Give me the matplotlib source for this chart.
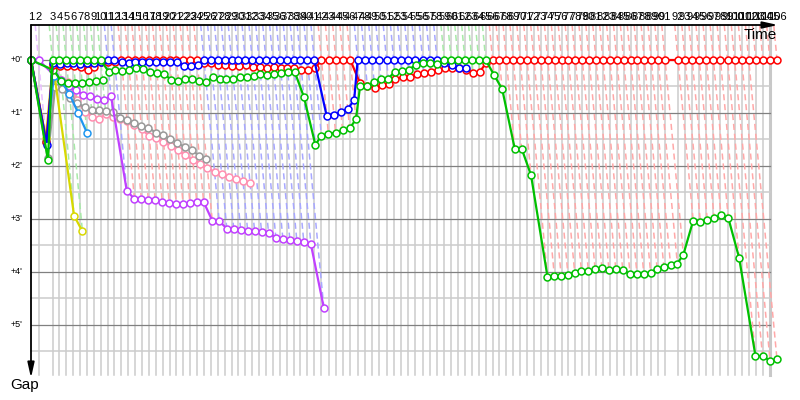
import numpy as np
import matplotlib.pyplot as plt
from matplotlib.colors import to_rgb

plt.rcParams['font.family'] = ['Liberation Sans', 'DejaVu Sans']

# leader lap times in minutes (lap 1 = start line)
lap_time = [
    0.00, 1.50, 2.80,
    1.38, 1.37, 1.38, 1.38, 1.37, 1.38, 1.38, 1.38, 1.37, 1.38,
    1.38, 1.38, 1.37, 1.38, 1.38, 1.38, 1.37, 1.38, 1.38, 1.38,
    1.37, 1.38, 1.38, 1.38, 1.37, 1.38, 1.38, 1.38, 1.38, 1.37,
    1.38, 1.38, 1.38, 1.37, 1.38, 1.38, 1.38, 1.38,
    1.44, 1.46, 1.44, 1.44, 1.44, 1.46, 1.44, 1.44, 1.44, 1.46,
    1.44, 1.44, 1.44, 1.46, 1.44, 1.44, 1.44, 1.44,
    1.38, 1.39, 1.37, 1.38, 1.38, 1.39, 1.38, 1.37, 1.38, 1.38,
    1.38, 1.38, 1.39, 1.37, 1.38, 1.38, 1.38, 1.39, 1.38, 1.37,
    1.38, 1.38, 1.38, 1.39, 1.38, 1.37, 1.38, 1.38, 1.38, 1.38,
    1.38, 1.38,
    2.60,
    1.41, 1.42, 1.41, 1.42, 1.41, 1.41, 1.42, 1.41, 1.42, 1.41,
    1.41, 1.42, 1.41, 1.42,
]

# gap to leader (minutes) per lap, starting at lap 1; None = no data
red_gap = [
    0, 1.55, 0.09, 0.11, 0.12, 0.12, 0.13, 0.19, 0.13, 0.04,
    0.03, 0.03, 0, 0, 0, 0, 0, 0, 0, 0,
    0, 0, 0, 0, 0.06, 0.06, 0.09, 0.10, 0.11, 0.11,
    0.10, 0.13, 0.13, 0.15, 0.13, 0.15, 0.15, 0.16, 0.19, 0.19,
    0.16, 0, 0, 0, 0, 0, 0.43, 0.49, 0.52, 0.47,
    0.46, 0.35, 0.33, 0.33, 0.26, 0.24, 0.22, 0.19, 0.16, 0.16,
    0.16, 0.19, 0.24, 0.22, 0.06, 0, 0, 0, 0, 0,
    0, 0, 0, 0, 0, 0, 0, 0, 0, 0,
    0, 0, 0, 0, 0, 0, 0, 0, 0, 0,
    0, 0, 0, 0, 0, 0, 0, 0, 0, 0,
    0, 0, 0, 0, 0, 0,
]
blue_gap = [
    0, 1.60, 0.06, 0.07, 0.06, 0.06, 0.08, 0.06, 0.05, 0.04,
    0, 0, 0.04, 0.05, 0.04, 0.04, 0.03, 0.04, 0.04, 0.03,
    0.04, 0.11, 0.11, 0.10, 0, 0, 0, 0, 0, 0,
    0, 0, 0, 0, 0, 0, 0, 0, 0, 0,
    0, 1.06, 1.04, 0.98, 0.92, 0.76, 0, 0, 0, 0,
    0, 0, 0, 0, 0, 0, 0, 0, 0.05, 0.09,
    0.16, 0.16,
]
green_gap = [
    0, 1.89, 0, 0, 0, 0, 0, 0, 0, 0,
    0.22, 0.18, 0.20, 0.19, 0.16, 0.17, 0.22, 0.24, 0.26, 0.38,
    0.39, 0.36, 0.35, 0.40, 0.42, 0.33, 0.35, 0.36, 0.35, 0.33,
    0.32, 0.30, 0.26, 0.28, 0.26, 0.24, 0.22, 0.22, 0.70, 1.60,
    1.43, 1.40, 1.37, 1.33, 1.29, 1.12, 0.49, 0.49, 0.41, 0.35,
    0.35, 0.22, 0.20, 0.18, 0.09, 0.05, 0.05, 0.08, 0, 0,
    0, 0, 0, 0, 0, 0.28, 0.55, 1.67, 1.67, 2.17,
    4.09, 4.07, 4.08, 4.06, 4.01, 3.99, 3.98, 3.95, 3.93, 3.97,
    3.95, 3.96, 4.04, 4.04, 4.03, 4.01, 3.94, 3.90, 3.87, 3.84,
    3.67, 3.03, 3.06, 3.02, 2.98, 2.93, 2.98, 3.73, 5.58, 5.59,
    5.67, 5.65,
]
green2_gap = [0, None, 0.19, 0.40, 0.43, 0.43, 0.43, 0.41, 0.40, 0.38]
violet_gap = [
    0, 0, 0.28, 0.38, 0.50, 0.57, 0.66, 0.68, 0.73, 0.75,
    0.68, 2.47, 2.62, 2.63, 2.64, 2.65, 2.67, 2.69, 2.72, 2.71,
    2.69, 2.67, 2.68, 3.03, 3.04, 3.18, 3.19, 3.21, 3.22, 3.23,
    3.25, 3.27, 3.35, 3.37, 3.40, 3.41, 3.43, 3.48, 4.68,
]
pink_gap = [
    0, 1.52, 0.34, 0.37, 0.42, 0.75, 0.98, 1.07, 1.11, 1.02,
    1.07, 1.11, 1.15, 1.22, 1.31, 1.43, 1.48, 1.54, 1.62, 1.70,
    1.80, 1.88, 1.96, 2.04, 2.11, 2.16, 2.20, 2.24, 2.28, 2.32,
]
gray_gap = [
    0, 1.85, 0.51, 0.55, 0.72, 0.81, 0.89, 0.94, 0.94, 0.96,
    0.98, 1.09, 1.13, 1.19, 1.25, 1.28, 1.37, 1.42, 1.49, 1.57,
    1.64, 1.70, 1.81, 1.87,
]
yellow_gap = [0, 1.47, 0.07, 2.94, 3.23]
lightblue_gap = [0, 1.55, 0.30, 0.40, 0.64, 1.00, 1.37]

drivers = [
    (pink_gap, '#ff8fb0'),
    (gray_gap, '#999999'),
    (violet_gap, '#c040ff'),
    (yellow_gap, '#d8d800'),
    (lightblue_gap, '#1e96f0'),
    (green2_gap, '#00c000'),
    (red_gap, '#ff0000'),
    (blue_gap, '#0000ff'),
    (green_gap, '#00c000'),
]

lap_t = np.cumsum(lap_time)
n_laps = len(lap_t)
top = -35 / 53        # gap value at the time axis
bottom = 315 / 53     # end of the vertical grid
grid_end = lap_t[-2]

fig = plt.figure(figsize=(8, 4), dpi=100)
ax = fig.add_axes([0, 0, 1, 1])
ax.set_xlim(-31 / 5, 769 / 5)
ax.set_ylim(340 / 53, -60 / 53)
ax.axis('off')

# grid
for t in lap_t[1:-1]:
    ax.plot([t, t], [top, bottom], color='#cccccc', lw=1.1, zorder=1)
ax.plot([grid_end, grid_end], [top, bottom], color='#c8c8c8', lw=2.2, zorder=1)
for g in np.arange(0.5, 6, 1):
    ax.plot([0, grid_end], [g, g], color='#cccccc', lw=1.1, zorder=1)
for g in range(0, 6):
    ax.plot([0, grid_end], [g, g], color='#808080', lw=0.9, zorder=1)

# lap isochrones, coloured by the leader of that lap
for k in range(1, n_laps):
    gaps = []
    for gap, col in drivers:
        if k < len(gap) and gap[k] is not None:
            gaps.append((gap[k], col))
    if not gaps:
        continue
    g_min, lead_col = min(gaps, key=lambda p: p[0])
    if g_min > 0.001:
        continue
    g_max = max(p[0] for p in gaps)
    pale = tuple(0.66 + 0.34 * c for c in to_rgb(lead_col))
    ax.plot([lap_t[k] + top, lap_t[k] + g_max], [top, g_max], color=pale,
            lw=1.1, dashes=(4, 2.5), zorder=2)

# drivers
for i, (gap, col) in enumerate(drivers):
    xs, ys = [], []
    for k, g in enumerate(gap):
        if g is None:
            continue
        xs.append(lap_t[k] + g)
        ys.append(g)
    ax.plot(xs, ys, color=col, lw=1.6, marker='o', ms=5, mfc='white',
            mec=col, mew=1.1, zorder=3 + i)

# axes with arrows
arrow = dict(arrowstyle='-|>,head_length=0.9,head_width=0.2', color='black',
             lw=1.3, shrinkA=0, shrinkB=0, mutation_scale=10)
ax.annotate('', xy=(747 / 5, top), xytext=(0, top), arrowprops=arrow, zorder=20)
ax.annotate('', xy=(0, 318 / 53), xytext=(0, top), arrowprops=arrow, zorder=20)

for k in range(n_laps):
    ax.text(lap_t[k], -43 / 53, str(k + 1), ha='center', va='center',
            fontsize=8, zorder=20)
for g in range(0, 6):
    ax.text(-1.8, g, "+%d'" % g, ha='right', va='center', fontsize=6.5, zorder=20)
ax.text(729 / 5, -25 / 53, 'Time', ha='center', va='center', fontsize=11, zorder=20)
ax.text(-6 / 5, 325 / 53, 'Gap', ha='center', va='center', fontsize=11, zorder=20)

fig.savefig('out.png', dpi=100)
